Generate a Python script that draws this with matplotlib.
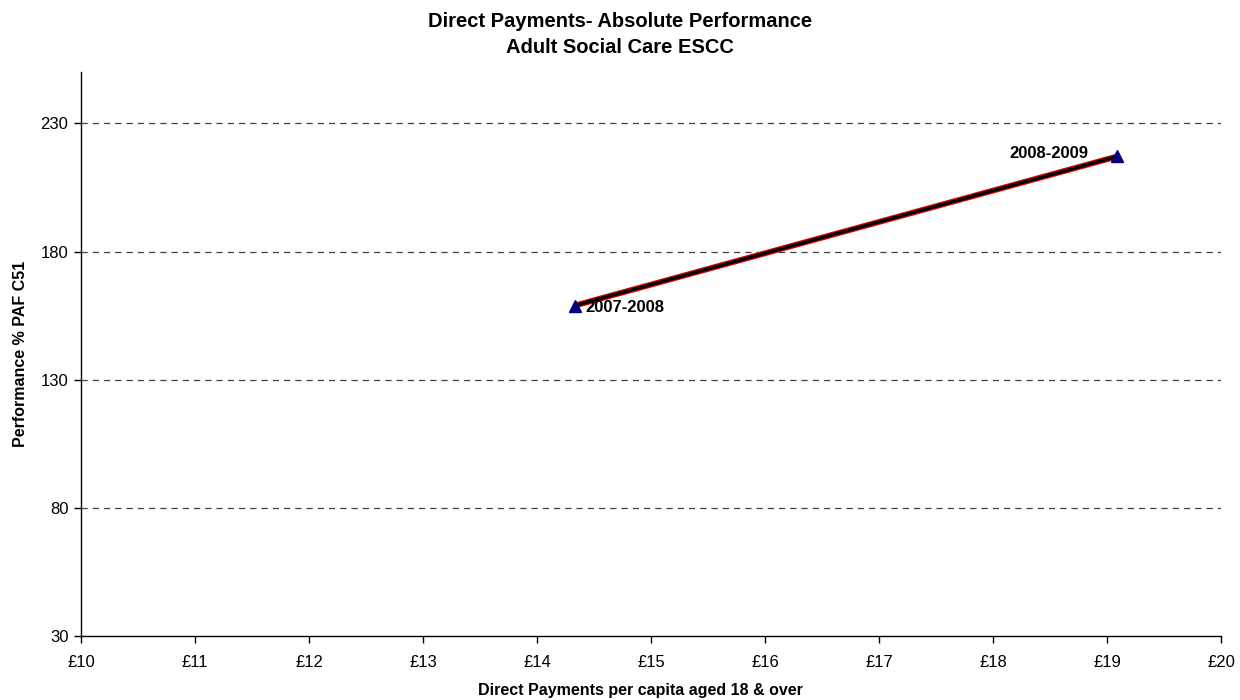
import matplotlib
matplotlib.use("Agg")
import matplotlib.pyplot as plt
from matplotlib.ticker import FuncFormatter

plt.rcParams['font.family'] = ['Liberation Sans', 'DejaVu Sans']

periods = ["2007-2008", "2008-2009"]
spend_per_capita = [14.33, 19.09]
performance = [158.9, 217.1]

x_ticks = list(range(10, 21))
y_ticks = [30, 80, 130, 180, 230]

title_lines = ["Direct Payments- Absolute Performance", "Adult Social Care ESCC"]

fig = plt.figure(figsize=(12.4, 7.0), dpi=100)
ax = fig.add_axes([0.0653, 0.0914, 0.9194, 0.8056])

ax.set_xlim(10, 20)
ax.set_ylim(30, 250)
ax.set_xticks(x_ticks)
ax.set_yticks(y_ticks)
ax.xaxis.set_major_formatter(FuncFormatter(lambda v, p: f"£{int(v)}"))

for y in y_ticks[1:]:
    ax.axhline(y, color='#404040', lw=0.9, ls=(0, (5, 4)), zorder=1)

ax.plot(spend_per_capita, performance, color='#e00000', lw=4.2, solid_capstyle='butt', zorder=2)
ax.plot(spend_per_capita, performance, color='black', lw=2.4, solid_capstyle='butt', zorder=3)
ax.plot(spend_per_capita, performance, ls='none', marker='^', ms=8,
        color='#000080', markeredgecolor='#000080', zorder=4)

ax.annotate(periods[0], (spend_per_capita[0], performance[0]), xytext=(8, -1),
            textcoords='offset points', fontsize=12, fontweight='bold', va='center', ha='left')
ax.annotate(periods[1], (spend_per_capita[1], performance[1]), xytext=(-21, 2),
            textcoords='offset points', fontsize=12, fontweight='bold', va='center', ha='right')

for s in ['top', 'right']:
    ax.spines[s].set_visible(False)
for s in ['left', 'bottom']:
    ax.spines[s].set_linewidth(1.0)

ax.tick_params(axis='both', direction='out', length=5, width=1, labelsize=12)
ax.tick_params(axis='x', pad=9)
ax.tick_params(axis='y', pad=4)

ax.set_xlabel("Direct Payments per capita aged 18 & over", fontsize=11.5, fontweight='bold')
ax.xaxis.set_label_coords(0.4904, -0.083)
ax.set_ylabel("Performance % PAF C51", fontsize=11.5, fontweight='bold', labelpad=9)

fig.text(0.5, 1 - 27 / 700, title_lines[0], ha='center', va='baseline',
         fontsize=14.5, fontweight='bold')
fig.text(0.5, 1 - 53 / 700, title_lines[1], ha='center', va='baseline',
         fontsize=14.5, fontweight='bold')

fig.savefig("out.png", dpi=100)
